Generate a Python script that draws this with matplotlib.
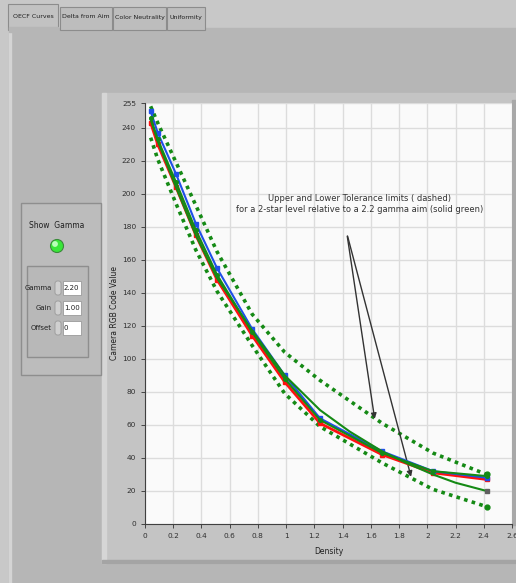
import matplotlib
matplotlib.use("Agg")
import matplotlib.pyplot as plt
from matplotlib.patches import Rectangle, Circle, FancyBboxPatch

W, H = 516, 583

# patch densities
density = [0.04, 0.09, 0.22, 0.36, 0.51, 0.76, 0.99, 1.24, 1.68, 2.04, 2.42]
red = [243, 230, 204, 175, 148, 114, 86, 61, 42, 31, 27]
green = [246, 233, 207, 178, 151, 116, 88, 63, 43, 32, 29]
blue = [250, 237, 212, 182, 155, 118, 90, 64, 44, 32, 28]
upper = [253, 243, 219, 193, 165, 127, 104, 87, 61, 43, 30]
lower = [234, 221, 194, 166, 141, 108, 79, 59, 37, 21, 10.5]

# 2.2 gamma aim (solid green), read at a few more densities
aim_density = [0.04, 0.09, 0.22, 0.36, 0.51, 0.76, 0.99, 1.24, 1.45, 1.68, 1.85, 2.04, 2.2, 2.42]
aim = [245, 232, 204, 175, 149, 117, 90, 69, 56, 44, 37, 30, 25, 20]

xticks = [0, 0.2, 0.4, 0.6, 0.8, 1, 1.2, 1.4, 1.6, 1.8, 2, 2.2, 2.4, 2.6]
xtick_labels = ["0", "0.2", "0.4", "0.6", "0.8", "1", "1.2", "1.4", "1.6", "1.8", "2", "2.2", "2.4", "2.6"]
yticks = [0, 20, 40, 60, 80, 100, 120, 140, 160, 180, 200, 220, 240, 255]

tabs = ["OECF Curves", "Delta from Aim", "Color Neutrality", "Uniformity"]
params = [("Gamma", "2.20"), ("Gain", "1.00"), ("Offset", "0")]

fig = plt.figure(figsize=(W / 100, H / 100), dpi=100)

# ---- background "front panel" drawn in pixel coords ----
bg = fig.add_axes([0, 0, 1, 1], zorder=0)
bg.set_xlim(0, W)
bg.set_ylim(H, 0)
bg.axis("off")
bg.add_patch(Rectangle((0, 0), W, H, color="#c8c8c8"))
bg.add_patch(Rectangle((9, 28), W - 9, H - 28, color="#b6b6b6"))
bg.add_patch(Rectangle((9, 28), 2, H - 28, color="#d4d4d4"))

# tabs
tab_x = [(8, 58), (60, 112), (113, 166), (167, 205)]
for i, ((x0, x1), name) in enumerate(zip(tab_x, tabs)):
    sel = i == 0
    y0 = 4 if sel else 7
    bg.add_patch(Rectangle((x0, y0), x1 - x0, 30 - y0, facecolor="#c2c2c2" if sel else "#bdbdbd",
                           edgecolor="#8c8c8c", lw=0.8))
    bg.text((x0 + x1) / 2, 17, name, ha="center", va="center", fontsize=4.5, color="#202020")
bg.add_patch(Rectangle((8.5, 27), 49, 5, color="#b6b6b6"))

# graph panel
bg.add_patch(Rectangle((102, 93), W - 102, 470, color="#c4c4c4"))
bg.add_patch(Rectangle((102, 93), 4, 470, color="#d6d6d6"))
bg.add_patch(Rectangle((102, 560), W - 102, 3, color="#a4a4a4"))
bg.add_patch(Rectangle((512, 100), 4, 425, color="#a8a8a8"))

# Show Gamma control panel
bg.add_patch(Rectangle((21, 203), 80, 172, facecolor="#bcbcbc", edgecolor="#8e8e8e", lw=1))
bg.add_patch(Rectangle((27, 266), 61, 91, facecolor="#b8b8b8", edgecolor="#8e8e8e", lw=1))
bg.text(57, 226, "Show  Gamma", ha="center", va="center", fontsize=5.5, color="#202020")
bg.add_patch(Circle((57, 246), 6.5, facecolor="#39e639", edgecolor="#3a8a3a", lw=0.8))
bg.add_patch(Circle((55, 244), 2.2, color="#b8ffb8"))
for (label, val), y in zip(params, [288, 308, 328]):
    bg.text(52, y, label, ha="right", va="center", fontsize=5, color="#202020")
    bg.add_patch(FancyBboxPatch((55, y - 7), 6, 14, boxstyle="round,pad=0,rounding_size=2.5",
                                facecolor="#d0d0d0", edgecolor="#9a9a9a", lw=0.6))
    bg.add_patch(Rectangle((63, y - 7), 18, 14, facecolor="white", edgecolor="#9a9a9a", lw=0.6))
    bg.text(64, y, val, ha="left", va="center", fontsize=5, color="#202020")

# ---- the chart ----
ax = fig.add_axes([145 / W, 1 - 524 / H, (512 - 145) / W, (524 - 103) / H], zorder=2)
ax.set_facecolor("#fafafa")
ax.set_xlim(0, 2.6)
ax.set_ylim(0, 255)
ax.set_xticks(xticks)
ax.set_xticklabels(xtick_labels)
ax.set_yticks(yticks)
ax.grid(True, color="#dcdcdc", lw=1)
ax.set_axisbelow(True)
ax.tick_params(labelsize=5.3, length=3, width=0.6, colors="#303030")
for s in ["top", "right"]:
    ax.spines[s].set_visible(False)
for s in ["left", "bottom"]:
    ax.spines[s].set_color("#404040")
    ax.spines[s].set_linewidth(0.8)

G = "#158a15"
ax.plot(density, upper, ls=(0, (1, 1.2)), color=G, lw=2.6, zorder=3)
ax.plot(density, lower, ls=(0, (1, 1.2)), color=G, lw=2.6, zorder=3)
ax.plot(density[-1:], upper[-1:], "o", color=G, ms=3.5, zorder=3)
ax.plot(density[-1:], lower[-1:], "o", color=G, ms=3.5, zorder=3)
ax.plot(density, red, color="#ff1010", lw=2.0, marker="s", ms=2.8, zorder=4)
ax.plot(density, blue, color="#1f4fe8", lw=1.5, marker="s", ms=2.6, zorder=5)
ax.plot(density, green, color=G, lw=1.5, marker="o", ms=2.6, zorder=6)
ax.plot(aim_density, aim, color=G, lw=1.5, zorder=6)
ax.plot(aim_density[-1:], aim[-1:], "s", color="#606060", ms=2.5, zorder=7)

ax.set_xlabel("Density", fontsize=5.5, color="#202020", labelpad=6)
ax.set_ylabel("Camera RGB Code Value", fontsize=5.5, color="#202020", labelpad=2)

ax.text(1.52, 194, "Upper and Lower Tolerance limits ( dashed)\nfor a 2-star level relative to a 2.2 gamma aim (solid green)",
        ha="center", va="center", fontsize=6, color="#333333", linespacing=1.3)
for tip in [(1.63, 62), (1.89, 27)]:
    ax.annotate("", xy=tip, xytext=(1.43, 176),
                arrowprops=dict(arrowstyle="-|>", color="#333333", lw=1.0, mutation_scale=8))

fig.savefig("out.png", dpi=100)
